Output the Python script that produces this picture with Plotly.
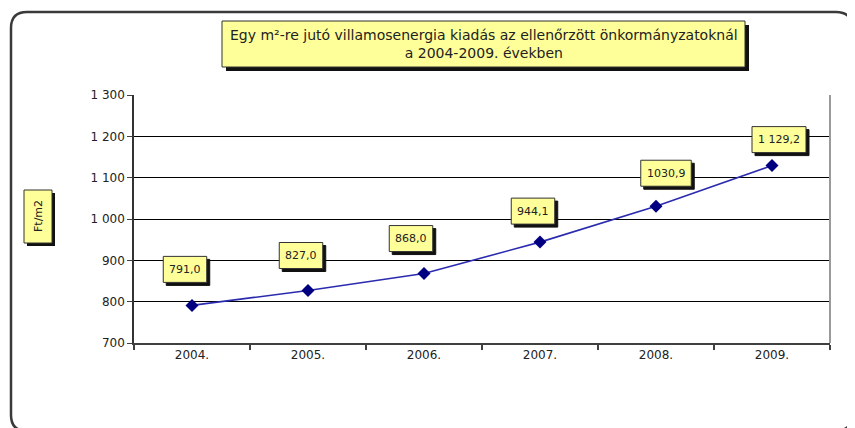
import plotly.graph_objects as go

# ---- data ----
years = ["2004.", "2005.", "2006.", "2007.", "2008.", "2009."]
values = [791.0, 827.0, 868.0, 944.1, 1030.9, 1129.2]
value_labels = ["791,0", "827,0", "868,0", "944,1", "1030,9", "1 129,2"]
y_tickvals = [700, 800, 900, 1000, 1100, 1200, 1300]
y_ticktext = ["700", "800", "900", "1 000", "1 100", "1 200", "1 300"]
title_lines = ["Egy m²-re jutó villamosenergia kiadás az ellenőrzött önkormányzatoknál",
               "a 2004-2009. években"]
y_title = "Ft/m2"

# ---- label offsets (style, px) ----
label_dx = [-7, -7, -13, -7, 10, 7]
label_dy = [36, 35, 35, 31, 33, 26]
LABEL_FS = 11

W, H = 855, 428
OFF = 8  # page body margin
# plot area in reference px
RL, RR, RT, RB = 134, 830, 95, 343
L, R, T, B = RL - OFF, RR - OFF, RT - OFF, RB - OFF

def px_x(px):
    return (px - RL) / (RR - RL)

def px_y(py):
    return (RB - py) / (RB - RT)

def text_w(s, fs):
    return sum((0.318 if c in ", " else 0.636) * fs for c in s)

fig = go.Figure()
fig.add_trace(go.Scatter(
    x=years, y=values, mode="lines+markers",
    line=dict(color="#2B2BB0", width=1.6),
    marker=dict(symbol="diamond", size=10, color="#000080"),
    hoverinfo="skip", showlegend=False,
))

shapes = []
# outer rounded border
x0, x1, y0, y1, r = 11, 852, 12, 431, 16
def P(px, py):
    return f"{px_x(px):.5f},{px_y(py):.5f}"
path = (f"M {P(x0+r, y0)} L {P(x1-r, y0)} Q {P(x1, y0)} {P(x1, y0+r)} "
        f"L {P(x1, y1-r)} Q {P(x1, y1)} {P(x1-r, y1)} "
        f"L {P(x0+r, y1)} Q {P(x0, y1)} {P(x0, y1-r)} "
        f"L {P(x0, y0+r)} Q {P(x0, y0)} {P(x0+r, y0)} Z")
shapes.append(dict(type="path", xref="paper", yref="paper", path=path,
                   line=dict(color="#3a3a3a", width=2.5), layer="below"))

def box(bx0, by0, bx1, by1, sh=4):
    shapes.append(dict(type="rect", xref="paper", yref="paper",
                       x0=px_x(bx0+sh), x1=px_x(bx1+sh), y0=px_y(by1+sh), y1=px_y(by0+sh),
                       fillcolor="#111111", line=dict(width=0), layer="above"))
    shapes.append(dict(type="rect", xref="paper", yref="paper",
                       x0=px_x(bx0), x1=px_x(bx1), y0=px_y(by1), y1=px_y(by0),
                       fillcolor="#FFFF99", line=dict(color="#333333", width=1), layer="above"))

# title box
box(222, 21, 745, 67)
# y title box
box(24, 190, 52, 243, sh=3)
# right plot border
shapes.append(dict(type="line", xref="paper", yref="paper", x0=1, x1=1, y0=0, y1=1,
                   line=dict(color="#9a9a9a", width=2)))

annotations = []
annotations.append(dict(xref="paper", yref="paper", x=px_x(484), y=px_y(44),
                        text="<br>".join(title_lines), showarrow=False,
                        xanchor="center", yanchor="middle",
                        font=dict(family="DejaVu Sans", size=14, color="#222222")))
annotations.append(dict(xref="paper", yref="paper", x=px_x(38), y=px_y(216),
                        text=y_title, showarrow=False, textangle=-90,
                        xanchor="center", yanchor="middle",
                        font=dict(family="DejaVu Sans", size=11, color="#222222")))

# data labels: yellow boxes with drop shadow (pixel-sized shapes anchored to data)
for i, (v, lab) in enumerate(zip(values, value_labels)):
    hw = text_w(lab, LABEL_FS) / 2 + 6
    hh = 13
    dx, dy = label_dx[i], label_dy[i]
    for sh, fill, lc in ((3, "#111111", "#111111"), (0, "#FFFF99", "#333333")):
        shapes.append(dict(type="rect", xref="x", yref="y",
                           xsizemode="pixel", ysizemode="pixel",
                           xanchor=i, yanchor=v,
                           x0=dx - hw + sh, x1=dx + hw + sh,
                           y0=dy - hh - sh, y1=dy + hh - sh,
                           fillcolor=fill, line=dict(color=lc, width=1),
                           layer="above"))
    annotations.append(dict(x=i, y=v, xref="x", yref="y", text=lab, showarrow=False,
                            xshift=dx, yshift=dy,
                            font=dict(family="DejaVu Sans", size=LABEL_FS, color="#222222")))

fig.update_layout(
    width=W, height=H,
    margin=dict(l=L, r=W - R, t=T, b=H - B),
    paper_bgcolor="white", plot_bgcolor="white",
    shapes=shapes, annotations=annotations,
    xaxis=dict(type="category", range=[-0.5, 5.5], tickson="boundaries",
               ticks="outside", ticklen=5, tickcolor="#404040", tickwidth=1.5,
               showline=True, linecolor="#404040", linewidth=2,
               showgrid=False, tickfont=dict(family="DejaVu Sans", size=12, color="#222222"),
               fixedrange=True),
    yaxis=dict(range=[700, 1300], tickvals=y_tickvals, ticktext=y_ticktext,
               ticks="outside", ticklen=5, tickcolor="#404040",
               showline=True, linecolor="#333333", linewidth=1.5,
               showgrid=True, gridcolor="#000000", gridwidth=1,
               zeroline=False,
               tickfont=dict(family="DejaVu Sans", size=12, color="#222222"),
               fixedrange=True),
)

fig.write_html("out.html")
